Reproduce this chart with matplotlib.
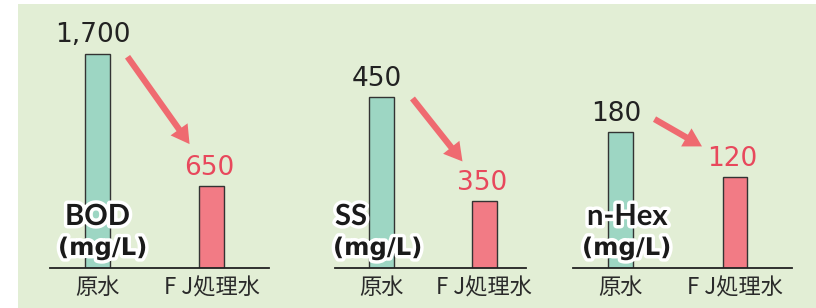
import matplotlib.pyplot as plt
import matplotlib.patheffects as pe
from matplotlib.patches import Rectangle
from matplotlib.transforms import offset_copy

plt.rcParams['font.family'] = ['Noto Sans CJK JP', 'DejaVu Sans']

# data
categories = ['原水', 'F J処理水']
items = ['BOD', 'SS', 'n-Hex']
unit = '(mg/L)'
raw_water = [1700, 450, 180]
fj_water = [650, 350, 120]
value_labels_raw = ['1,700', '450', '180']
value_labels_fj = ['650', '350', '120']

teal = '#9dd6c3'
pink = '#f27b85'
red_text = '#e8485c'
arrow_col = '#ef6a70'
bg_green = '#e2eed5'

# layout of each panel, in pixels of the 816x308 image
# (axes left, axes width, xlim, bar width, ylim, arrow offsets, label offsets)
panels = [
    dict(left=50, width=219, xlim=(-0.417, 1.504), bw=0.22, ylim=(0, 1968),
         a_from=(30, -3), a_to=(-22, 42), lab=(15, 8)),
    dict(left=335, width=191, xlim=(-0.451, 1.403), bw=0.243, ylim=(286, 524.5),
         a_from=(31, -1), a_to=(-22, 40), lab=(0, -2)),
    dict(left=573, width=219, xlim=(-0.415, 1.498), bw=0.218, ylim=(0, 328.5),
         a_from=(34, 13), a_to=(-33, 31), lab=(14, 9)),
]

W, H = 816, 308
fig = plt.figure(figsize=(W / 100, H / 100), dpi=100)
fig.patch.set_facecolor('white')
fig.patches.append(Rectangle((18 / W, 0), 1, (H - 4) / H, transform=fig.transFigure,
                             facecolor=bg_green, edgecolor='none', zorder=-10))

ax_bottom = 40 / H
ax_height = 248 / H

for i, p in enumerate(panels):
    ax = fig.add_axes([p['left'] / W, ax_bottom, p['width'] / W, ax_height])
    ax.patch.set_alpha(0)
    vals = [raw_water[i], fj_water[i]]
    ax.bar([0, 1], vals, width=p['bw'], color=[teal, pink],
           edgecolor='#333333', linewidth=1.0, zorder=2)
    ax.set_xlim(*p['xlim'])
    ax.set_ylim(*p['ylim'])
    for s in ['top', 'right', 'left']:
        ax.spines[s].set_visible(False)
    ax.spines['bottom'].set_linewidth(1.3)
    ax.spines['bottom'].set_color('#222222')
    ax.spines['bottom'].set_zorder(3)
    ax.set_yticks([])
    ax.set_xticks([0, 1])
    ax.set_xticklabels(categories, fontsize=16, color='#2a2a2a')
    ax.tick_params(axis='x', length=0, pad=6)

    # value labels
    ax.annotate(value_labels_raw[i], (0, vals[0]), xytext=(-3, 4), textcoords='offset points',
                ha='center', va='bottom', fontsize=19, color='#222222',
                family=['DejaVu Sans'], annotation_clip=False)
    ax.annotate(value_labels_fj[i], (1, vals[1]), xytext=(-2, 4), textcoords='offset points',
                ha='center', va='bottom', fontsize=19, color=red_text,
                family=['DejaVu Sans'], annotation_clip=False)

    # arrow from original to treated value
    t_from = offset_copy(ax.transData, fig, x=p['a_from'][0], y=p['a_from'][1], units='dots')
    t_to = offset_copy(ax.transData, fig, x=p['a_to'][0], y=p['a_to'][1], units='dots')
    ax.annotate('', xy=(1, vals[1]), xycoords=t_to, xytext=(0, vals[0]), textcoords=t_from,
                arrowprops=dict(facecolor=arrow_col, edgecolor='none', width=4.5,
                                headwidth=15, headlength=13, shrink=0),
                annotation_clip=False)

    # item name + unit with white outline
    stroke = [pe.withStroke(linewidth=5, foreground='white')]
    t_item = offset_copy(ax.transAxes, fig, x=p['lab'][0], y=43, units='dots')
    ax.text(0, 0, items[i], transform=t_item, fontsize=21, fontweight='bold',
            family=['Lato', 'DejaVu Sans'], color='#1a1a1a', ha='left', va='baseline',
            path_effects=stroke, zorder=5)
    t_unit = offset_copy(ax.transAxes, fig, x=p['lab'][1], y=13, units='dots')
    ax.text(0, 0, unit, transform=t_unit, fontsize=17.5, fontweight='bold',
            family=['DejaVu Sans'], color='#1a1a1a', ha='left', va='baseline',
            path_effects=stroke, zorder=5)

fig.savefig('out.png', dpi=100, facecolor=fig.get_facecolor())
